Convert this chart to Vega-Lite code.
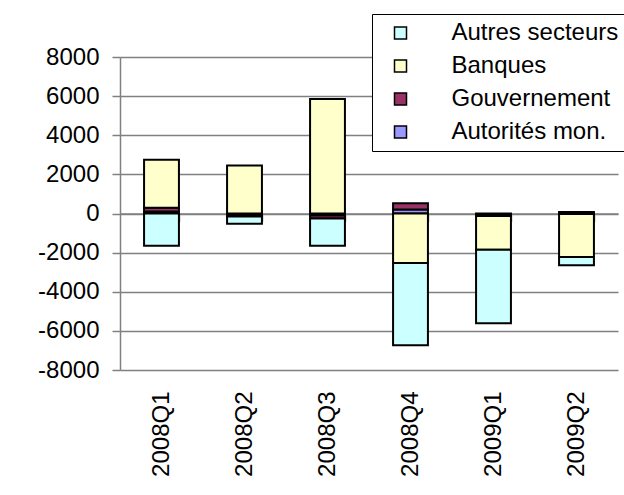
{
  "$schema": "https://vega.github.io/schema/vega-lite/v6.json",
  "width": 498,
  "height": 313,
  "autosize": {"type": "none"},
  "padding": {"left": 120, "top": 57, "right": 6, "bottom": 125},
  "background": "white",
  "config": {"font": "Liberation Sans", "view": {"stroke": null}, "legend": {"strokeWidth": 1}},
  "data": {
    "values": [
      {"trimestre": "2008Q1", "secteur": "Autorités mon.", "valeur": 100},
      {"trimestre": "2008Q1", "secteur": "Gouvernement", "valeur": 200},
      {"trimestre": "2008Q1", "secteur": "Banques", "valeur": 2450},
      {"trimestre": "2008Q1", "secteur": "Autres secteurs", "valeur": -1650},
      {"trimestre": "2008Q2", "secteur": "Autorités mon.", "valeur": -50},
      {"trimestre": "2008Q2", "secteur": "Gouvernement", "valeur": -100},
      {"trimestre": "2008Q2", "secteur": "Banques", "valeur": 2450},
      {"trimestre": "2008Q2", "secteur": "Autres secteurs", "valeur": -370},
      {"trimestre": "2008Q3", "secteur": "Autorités mon.", "valeur": -100},
      {"trimestre": "2008Q3", "secteur": "Gouvernement", "valeur": -150},
      {"trimestre": "2008Q3", "secteur": "Banques", "valeur": 5850},
      {"trimestre": "2008Q3", "secteur": "Autres secteurs", "valeur": -1400},
      {"trimestre": "2008Q4", "secteur": "Autorités mon.", "valeur": 200},
      {"trimestre": "2008Q4", "secteur": "Gouvernement", "valeur": 320},
      {"trimestre": "2008Q4", "secteur": "Banques", "valeur": -2530},
      {"trimestre": "2008Q4", "secteur": "Autres secteurs", "valeur": -4210},
      {"trimestre": "2009Q1", "secteur": "Autorités mon.", "valeur": -50},
      {"trimestre": "2009Q1", "secteur": "Gouvernement", "valeur": -80},
      {"trimestre": "2009Q1", "secteur": "Banques", "valeur": -1720},
      {"trimestre": "2009Q1", "secteur": "Autres secteurs", "valeur": -3765},
      {"trimestre": "2009Q2", "secteur": "Autorités mon.", "valeur": 80},
      {"trimestre": "2009Q2", "secteur": "Gouvernement", "valeur": -20},
      {"trimestre": "2009Q2", "secteur": "Banques", "valeur": -2200},
      {"trimestre": "2009Q2", "secteur": "Autres secteurs", "valeur": -430}
    ]
  },
  "transform": [
    {"calculate": "indexof(['Autorités mon.', 'Gouvernement', 'Banques', 'Autres secteurs'], datum.secteur)", "as": "ordre"}
  ],
  "resolve": {"axis": {"x": "independent"}},
  "layer": [
    {
      "mark": {"type": "bar", "stroke": "black", "strokeWidth": 2},
      "encoding": {
        "x": {
          "field": "trimestre",
          "type": "nominal",
          "scale": {"paddingInner": 0.58, "paddingOuter": 0.29},
          "axis": {
            "orient": "bottom",
            "title": null,
            "domain": false,
            "ticks": false,
            "tickSize": 0,
            "labelAngle": -90,
            "labelPadding": 21,
            "labelFontSize": 24,
            "labelColor": "black"
          }
        },
        "y": {
          "field": "valeur",
          "type": "quantitative",
          "stack": "zero",
          "scale": {"domain": [-8000, 8000], "nice": false},
          "axis": {
            "title": null,
            "values": [-8000, -6000, -4000, -2000, 0, 2000, 4000, 6000, 8000],
            "labelExpr": "toString(datum.value)",
            "grid": true,
            "gridColor": "#808080",
            "gridWidth": 1.5,
            "domainColor": "#808080",
            "domainWidth": 1.5,
            "tickColor": "#808080",
            "tickWidth": 1.5,
            "tickSize": 8,
            "labelPadding": 13,
            "labelFontSize": 24,
            "labelColor": "black"
          }
        },
        "color": {
          "field": "secteur",
          "type": "nominal",
          "scale": {
            "domain": ["Autres secteurs", "Banques", "Gouvernement", "Autorités mon."],
            "range": ["#CCFFFF", "#FFFFCC", "#993366", "#9999FF"]
          },
          "legend": {
            "orient": "none",
            "legendX": 252,
            "legendY": -43,
            "title": null,
            "fillColor": "white",
            "strokeColor": "black",
            "padding": 7,
            "symbolType": "square",
            "symbolSize": 144,
            "symbolStrokeColor": "black",
            "symbolStrokeWidth": 1.5,
            "symbolOpacity": 1,
            "symbolOffset": 9.5,
            "labelFontSize": 24,
            "labelColor": "black",
            "labelOffset": 39,
            "labelLimit": 400,
            "rowPadding": 9
          }
        },
        "order": {"field": "ordre", "type": "quantitative"}
      }
    },
    {
      "mark": {"type": "rule", "opacity": 0},
      "encoding": {
        "x": {
          "field": "trimestre",
          "type": "nominal",
          "axis": {
            "orient": "bottom",
            "offset": -156.5,
            "title": null,
            "labels": false,
            "grid": false,
            "tickBand": "extent",
            "domainColor": "#808080",
            "domainWidth": 1.5,
            "tickColor": "#808080",
            "tickWidth": 1.5,
            "tickSize": 8
          }
        }
      }
    }
  ]
}
